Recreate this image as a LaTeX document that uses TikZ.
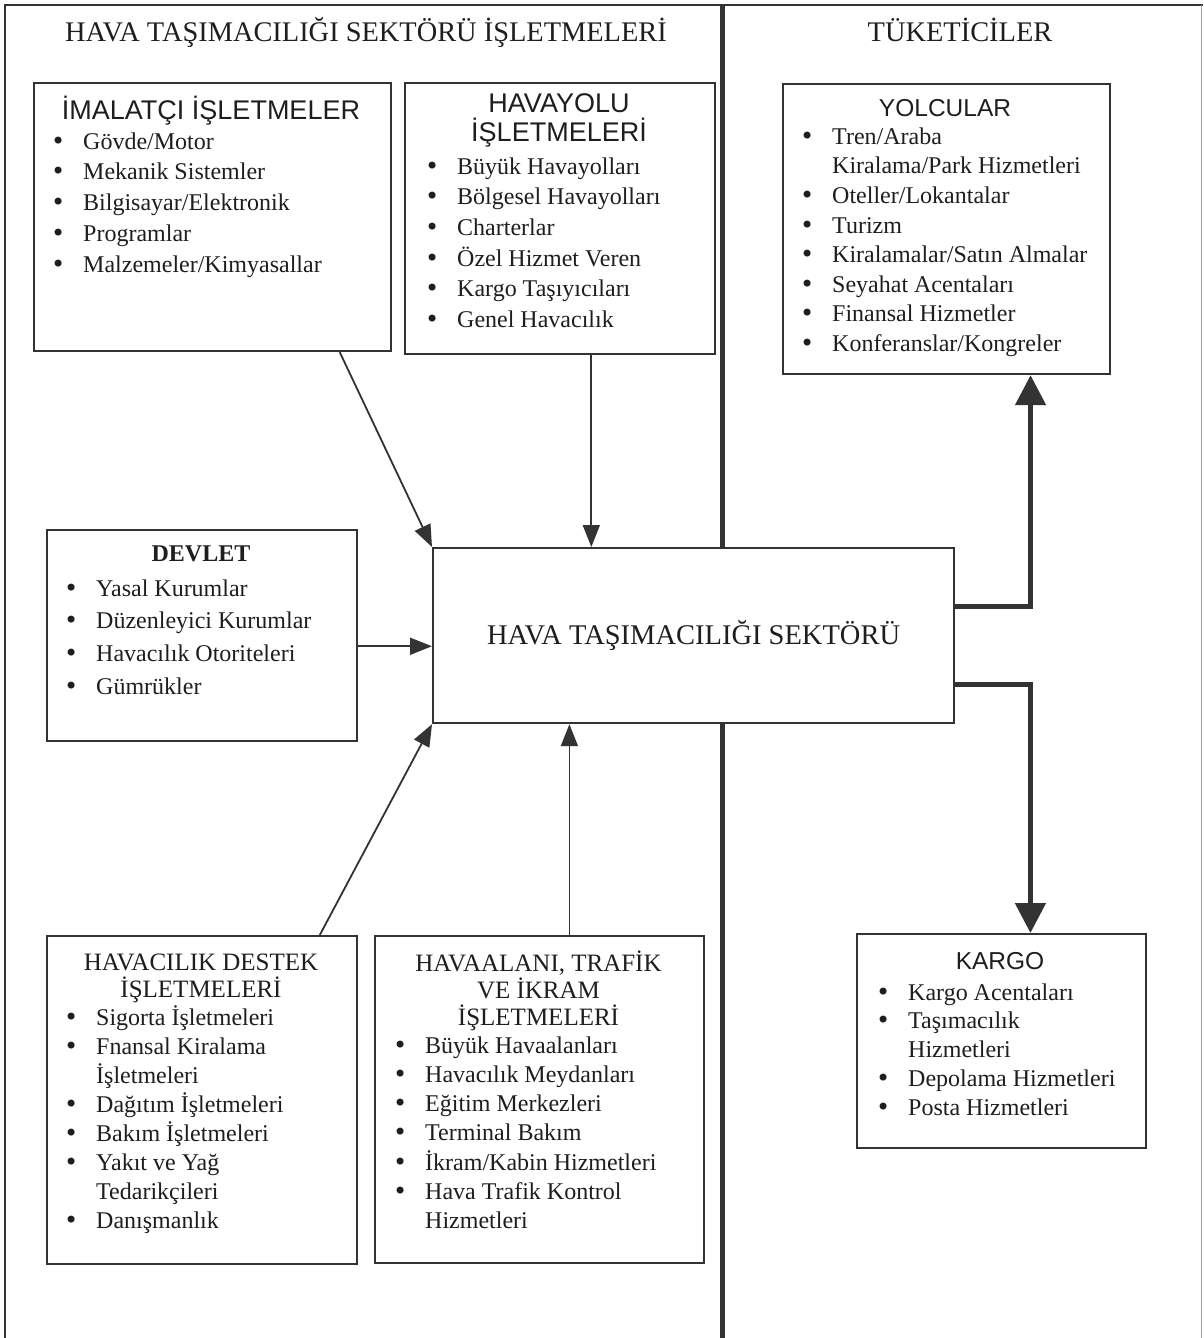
\documentclass[tikz,border=0pt]{standalone}
\usepackage{fontspec}
\setmainfont{Liberation Serif}
\newfontfamily\arialfam{Liberation Sans}
\newfontfamily\dotfam{DejaVu Sans}
\usetikzlibrary{arrows.meta,calc}
\definecolor{ink}{HTML}{1E1E1E}
\definecolor{rule}{HTML}{333333}
% bullet with a fixed hanging width, and the matching indent for wrapped lines
\newcommand\bl{\makebox[29pt][l]{\hspace*{-3pt}{\dotfam\textbullet}}}
\newcommand\nb{\hspace*{29pt}}
% height-only strut that fixes the first baseline of a multi-line node
\newcommand\topstrut{\rule{0pt}{0.7\baselineskip}}

\begin{document}
\begin{tikzpicture}[x=1pt,y=-1pt,
  box/.style={draw=rule, line width=2.2pt, anchor=north west, inner sep=0pt},
  lst/.style={anchor=north west, inner sep=0pt, align=left, text=ink,
              font=\fontsize{24}{#1}\selectfont},
  sanshead/.style={anchor=base, inner sep=0pt, text=ink,
              font=\arialfam\fontsize{#1}{#1}\selectfont},
  serifhead/.style={anchor=north, inner sep=0pt, align=center, text=ink,
              font=\fontsize{25}{27}\selectfont},
  arr/.style={draw=rule, line width=1.8pt, -{Triangle[length=22pt,width=17pt]}},
  bigarr/.style={draw=rule, line width=5pt, -{Triangle[length=30pt,width=30pt]}}
]
\useasboundingbox (0,0) rectangle (1203,1338);
\fill[white] (0,0) rectangle (1203,1338);

% frame and divider between the two halves
\draw[rule, line width=2pt] (5,1338) -- (5,5) -- (1203,5);
\draw[rule!45, line width=1pt] (1201.5,5) -- (1201.5,1338);
\draw[rule, line width=5pt] (722,5) -- (722,1338);

% column headings
\node[anchor=base, inner sep=0pt, text=ink, font=\fontsize{28.4}{28.4}\selectfont]
  (lefthead) at (366,42) {HAVA TAŞIMACILIĞI SEKTÖRÜ İŞLETMELERİ};
\node[anchor=base, inner sep=0pt, text=ink, font=\fontsize{28.4}{28.4}\selectfont]
  (righthead) at (960,42) {TÜKETİCİLER};

% boxes
\node[box, minimum width=357pt, minimum height=268pt] (imal)   at (33,82)  {};
\node[box, minimum width=310pt, minimum height=271pt] (hava)   at (404,82) {};
\node[box, minimum width=327pt, minimum height=290pt] (yolcu)  at (782,83) {};
\node[box, minimum width=310pt, minimum height=211pt] (devlet) at (46,529) {};
\node[box, fill=white, minimum width=521pt, minimum height=175pt, text=ink,
      font=\fontsize{28.5}{28.5}\selectfont] (core) at (432,547)
      {HAVA TAŞIMACILIĞI SEKTÖRÜ};
\node[box, minimum width=310pt, minimum height=328pt] (destek) at (46,935) {};
\node[box, minimum width=329pt, minimum height=327pt] (alani)  at (374,935) {};
\node[box, minimum width=289pt, minimum height=214pt] (kargo)  at (856,933) {};

% manufacturers
\node[sanshead=27] (imal-h) at (211,119) {İMALATÇI İŞLETMELER};
\node[lst=30.8] (imal-l) at (54,127.4) {\topstrut\bl Gövde/Motor\\
  \bl Mekanik Sistemler\\ \bl Bilgisayar/Elektronik\\ \bl Programlar\\
  \bl Malzemeler/Kimyasallar};

% airlines
\node[anchor=north, inner sep=0pt, align=center, text=ink,
      font=\arialfam\fontsize{27}{29}\selectfont] (hava-h) at (559,92.4)
      {\topstrut HAVAYOLU\\ İŞLETMELERİ};
\node[lst=30.6] (hava-l) at (428,152.6) {\topstrut\bl Büyük Havayolları\\
  \bl Bölgesel Havayolları\\ \bl Charterlar\\ \bl Özel Hizmet Veren\\
  \bl Kargo Taşıyıcıları\\ \bl Genel Havacılık};

% passengers
\node[sanshead=24.5] (yolcu-h) at (945,116) {YOLCULAR};
\node[lst=29.6] (yolcu-l) at (803,123.3) {\topstrut\bl Tren/Araba\\
  \nb Kiralama/Park Hizmetleri\\ \bl Oteller/Lokantalar\\ \bl Turizm\\
  \bl Kiralamalar/Satın Almalar\\ \bl Seyahat Acentaları\\
  \bl Finansal Hizmetler\\ \bl Konferanslar/Kongreler};

% government
\node[anchor=base, inner sep=0pt, text=ink, font=\bfseries\fontsize{24}{24}\selectfont]
  (devlet-h) at (201,561) {DEVLET};
\node[lst=32.7] (devlet-l) at (67,573.1) {\topstrut\bl Yasal Kurumlar\\
  \bl Düzenleyici Kurumlar\\ \bl Havacılık Otoriteleri\\ \bl Gümrükler};

% aviation support
\node[serifhead] (destek-h) at (201,951.1) {\topstrut HAVACILIK DESTEK\\ İŞLETMELERİ};
\node[lst=29] (destek-l) at (67,1004.7) {\topstrut\bl Sigorta İşletmeleri\\
  \bl Fnansal Kiralama\\ \nb İşletmeleri\\ \bl Dağıtım İşletmeleri\\
  \bl Bakım İşletmeleri\\ \bl Yakıt ve Yağ\\ \nb Tedarikçileri\\
  \bl Danışmanlık};

% airports, traffic and catering
\node[serifhead] (alani-h) at (538.5,951.1)
  {\topstrut HAVAALANI, TRAFİK\\ VE İKRAM\\ İŞLETMELERİ};
\node[lst=29.2] (alani-l) at (396,1032.6) {\topstrut\bl Büyük Havaalanları\\
  \bl Havacılık Meydanları\\ \bl Eğitim Merkezleri\\ \bl Terminal Bakım\\
  \bl İkram/Kabin Hizmetleri\\ \bl Hava Trafik Kontrol\\ \nb Hizmetleri};

% cargo
\node[sanshead=24.5] (kargo-h) at (1000,969) {KARGO};
\node[lst=28.75] (kargo-l) at (879,979.9) {\topstrut\bl Kargo Acentaları\\
  \bl Taşımacılık\\ \nb Hizmetleri\\ \bl Depolama Hizmetleri\\
  \bl Posta Hizmetleri};

% inputs into the sector
\draw[arr] ($(imal.south west)!0.854!(imal.south east)$) -- (core.north west);
\draw[arr] ($(hava.south west)!0.60!(hava.south east)$) coordinate (hv)
  -- (hv |- core.north);
\draw[arr] ($(devlet.north east)!0.55!(devlet.south east)$) coordinate (dv)
  -- (dv -| core.west);
\draw[arr] ($(destek.north west)!0.877!(destek.north east)$) -- (core.south west);
\draw[arr] ($(alani.north west)!0.59!(alani.north east)$) coordinate (al)
  -- (al |- core.south);

% outputs to consumers
\draw[bigarr] ($(core.north east)!0.337!(core.south east)$)
  -| ($(yolcu.south west)!0.755!(yolcu.south east)$);
\draw[bigarr] ($(core.north east)!0.777!(core.south east)$)
  -| ($(kargo.north west)!0.599!(kargo.north east)$);
\end{tikzpicture}
\end{document}
